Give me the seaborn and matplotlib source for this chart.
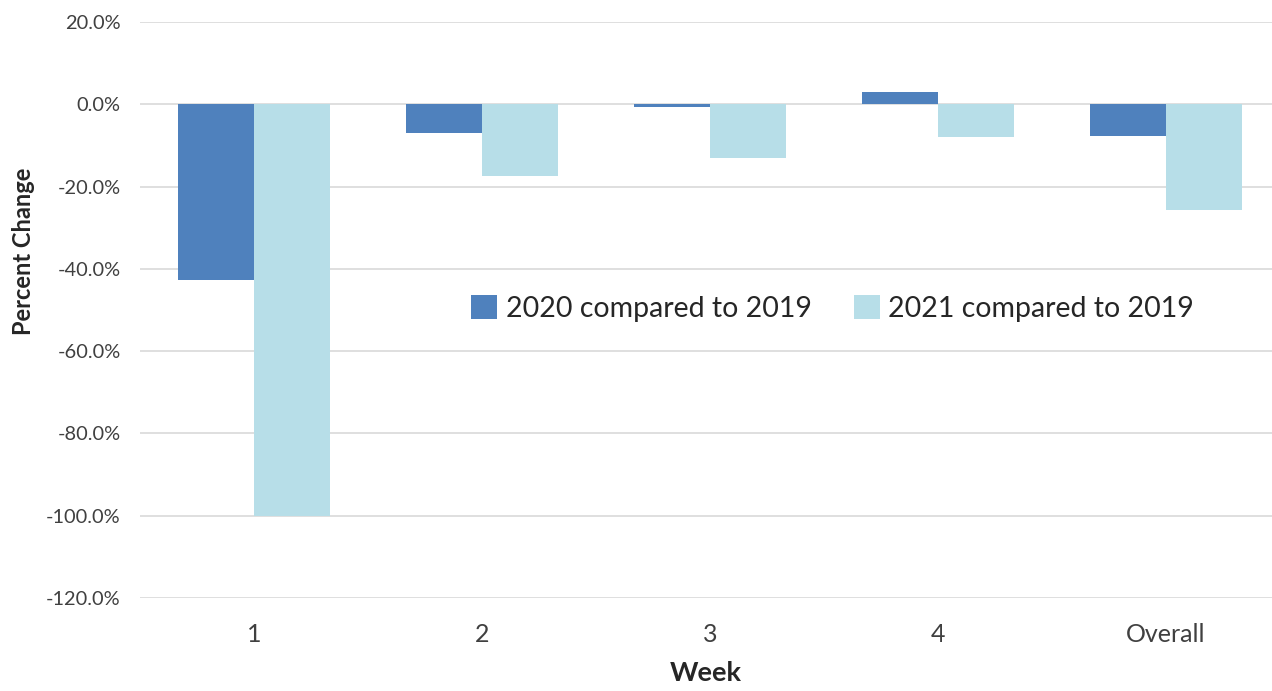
import pandas as pd
import matplotlib.pyplot as plt
import matplotlib.ticker as mticker
import seaborn as sns

weeks = ["1", "2", "3", "4", "Overall"]
change_2020 = [-42.7, -7.1, -0.6, 3.1, -7.7]
change_2021 = [-100.0, -17.4, -13.0, -8.0, -25.6]
series_names = ["2020 compared to 2019", "2021 compared to 2019"]
colors = ["#4F81BD", "#B7DEE8"]

df = pd.DataFrame({
    "Week": weeks * 2,
    "Percent Change": change_2020 + change_2021,
    "Series": [series_names[0]] * len(weeks) + [series_names[1]] * len(weeks),
})

sns.set_style("white")
plt.rcParams["font.family"] = ["Lato", "DejaVu Sans"]

fig = plt.figure(figsize=(12.72, 6.91), dpi=100)
ax = fig.add_axes([140 / 1272, (691 - 598) / 691, (1272 - 140) / 1272, (598 - 22) / 691])

sns.barplot(data=df, x="Week", y="Percent Change", hue="Series",
            palette=colors, width=0.667, ax=ax, saturation=1, linewidth=0, zorder=3)

ax.set_ylim(-120, 20)
ax.set_xlim(-0.5, 4.465)
ax.yaxis.set_major_locator(mticker.MultipleLocator(20))
ax.yaxis.set_major_formatter(mticker.FuncFormatter(lambda v, p: f"{v:.1f}%"))
ax.grid(axis="y", color="#d9d9d9", linewidth=1.2, zorder=0)
ax.set_axisbelow(True)
for s in ax.spines.values():
    s.set_visible(False)

ax.tick_params(axis="y", length=0, labelsize=14.4, colors="#404040", pad=14)
ax.tick_params(axis="x", length=0, labelsize=18, colors="#404040", pad=18)
ax.set_ylabel("Percent Change", fontsize=17, fontweight="bold", color="#262626")
ax.yaxis.set_label_coords(-0.093, 0.602)
ax.set_xlabel("Week", fontsize=19.5, fontweight="bold", color="#262626", labelpad=11)

ax.legend(loc="center", bbox_to_anchor=(0.612, 0.503), ncol=2, frameon=False,
          fontsize=20.5, handlelength=0.9, handleheight=0.9, columnspacing=1.5,
          handletextpad=0.3, labelcolor="#262626")

fig.savefig("out.png", dpi=100)
